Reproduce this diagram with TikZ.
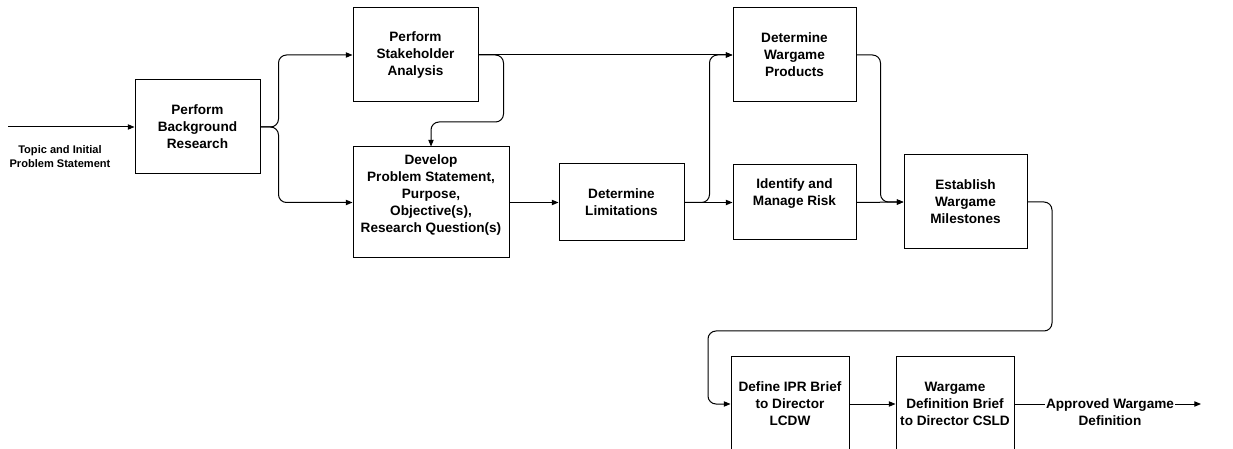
\documentclass[tikz,border=0pt]{standalone}
\usepackage{fontspec}
\setmainfont{Liberation Sans}
\usetikzlibrary{arrows.meta}
\begin{document}
\begin{tikzpicture}[x=0.75pt,y=-0.75pt,
  box/.style={draw,line width=0.75pt,rectangle,inner sep=0pt},
  txt/.style={align=center,font=\fontsize{10.2}{12.75}\selectfont\bfseries,inner sep=1pt},
  small/.style={align=center,font=\fontsize{8.3}{10.5}\selectfont\bfseries,inner sep=1pt},
  arr/.style={line width=0.75pt,rounded corners=6pt,-{Triangle[length=5pt,width=4pt]}}]
\clip (0,0) rectangle (1233,449);
\fill[white] (0,0) rectangle (1233,449);

% process boxes
\node[box,minimum width=93.75pt,minimum height=70.5pt] (br) at (197.5,127) {};
\node[txt] (brt) at (br.center) {Perform\\Background\\Research};
\node[box,minimum width=93.75pt,minimum height=70.5pt] (sa) at (415.5,55) {};
\node[txt] (sat) at (sa.center) {Perform\\Stakeholder\\Analysis};
\node[box,minimum width=117pt,minimum height=83.25pt] (dv) at (431,202.5) {};
\node[txt] (dvt) at (431,195) {Develop\\Problem Statement,\\Purpose,\\Objective(s),\\Research Question(s)};
\node[box,minimum width=93.75pt,minimum height=57.75pt] (dl) at (621.5,202.5) {};
\node[txt] (dlt) at (dl.center) {Determine\\Limitations};
\node[box,minimum width=92.25pt,minimum height=70.5pt] (dwp) at (794.5,55) {};
\node[txt] (dwpt) at (dwp.center) {Determine\\Wargame\\Products};
\node[box,minimum width=92.25pt,minimum height=56.25pt] (ir) at (794.5,202.5) {};
\node[txt] (irt) at (794.5,194) {Identify and\\Manage Risk};
\node[box,minimum width=92.25pt,minimum height=70.5pt] (em) at (965.5,202) {};
\node[txt] (emt) at (em.center) {Establish\\Wargame\\Milestones};
\node[box,minimum width=88.5pt,minimum height=72pt] (ipr) at (790,404) {};
\node[txt] (iprt) at (ipr.center) {Define IPR Brief\\to Director\\LCDW};
\node[box,minimum width=88.5pt,minimum height=72pt] (wdb) at (955,404) {};
\node[txt] (wdbt) at (wdb.center) {Wargame\\Definition Brief\\to Director CSLD};

% free ends
\coordinate (in) at (8,127);
\coordinate (out) at (1201,404);

% connectors
\draw[arr] (in) -- (br.west);
\node[small] (inl) at (60,157) {Topic and Initial\\Problem Statement};
\draw[arr] (br.east) -- ++(18,0) |- (sa.west);
\draw[arr] (br.east) -- ++(18,0) |- (dv.west);
\draw[arr] (sa.east) -- (dwp.west);
\draw[arr] (sa.east) -- ++(25,0) -- ++(0,67) -| (dv.north);
\draw[arr] (dv.east) -- (dl.west);
\draw[arr] (dl.east) -- (ir.west);
\draw[arr] (dl.east) -- ++(25,0) |- (dwp.west);
\draw[arr] (dwp.east) -- ++(24,0) |- (em.west);
\draw[arr] (ir.east) -- (em.west);
\draw[arr] (em.east) -| (1052,331) -- (708,331) |- (ipr.west);
\draw[arr] (ipr.east) -- (wdb.west);
\draw[arr] (wdb.east) -- (out);
\node[txt,fill=white,inner sep=0.5pt] (outl) at (1110,412) {Approved Wargame\\Definition};
\end{tikzpicture}
\end{document}
